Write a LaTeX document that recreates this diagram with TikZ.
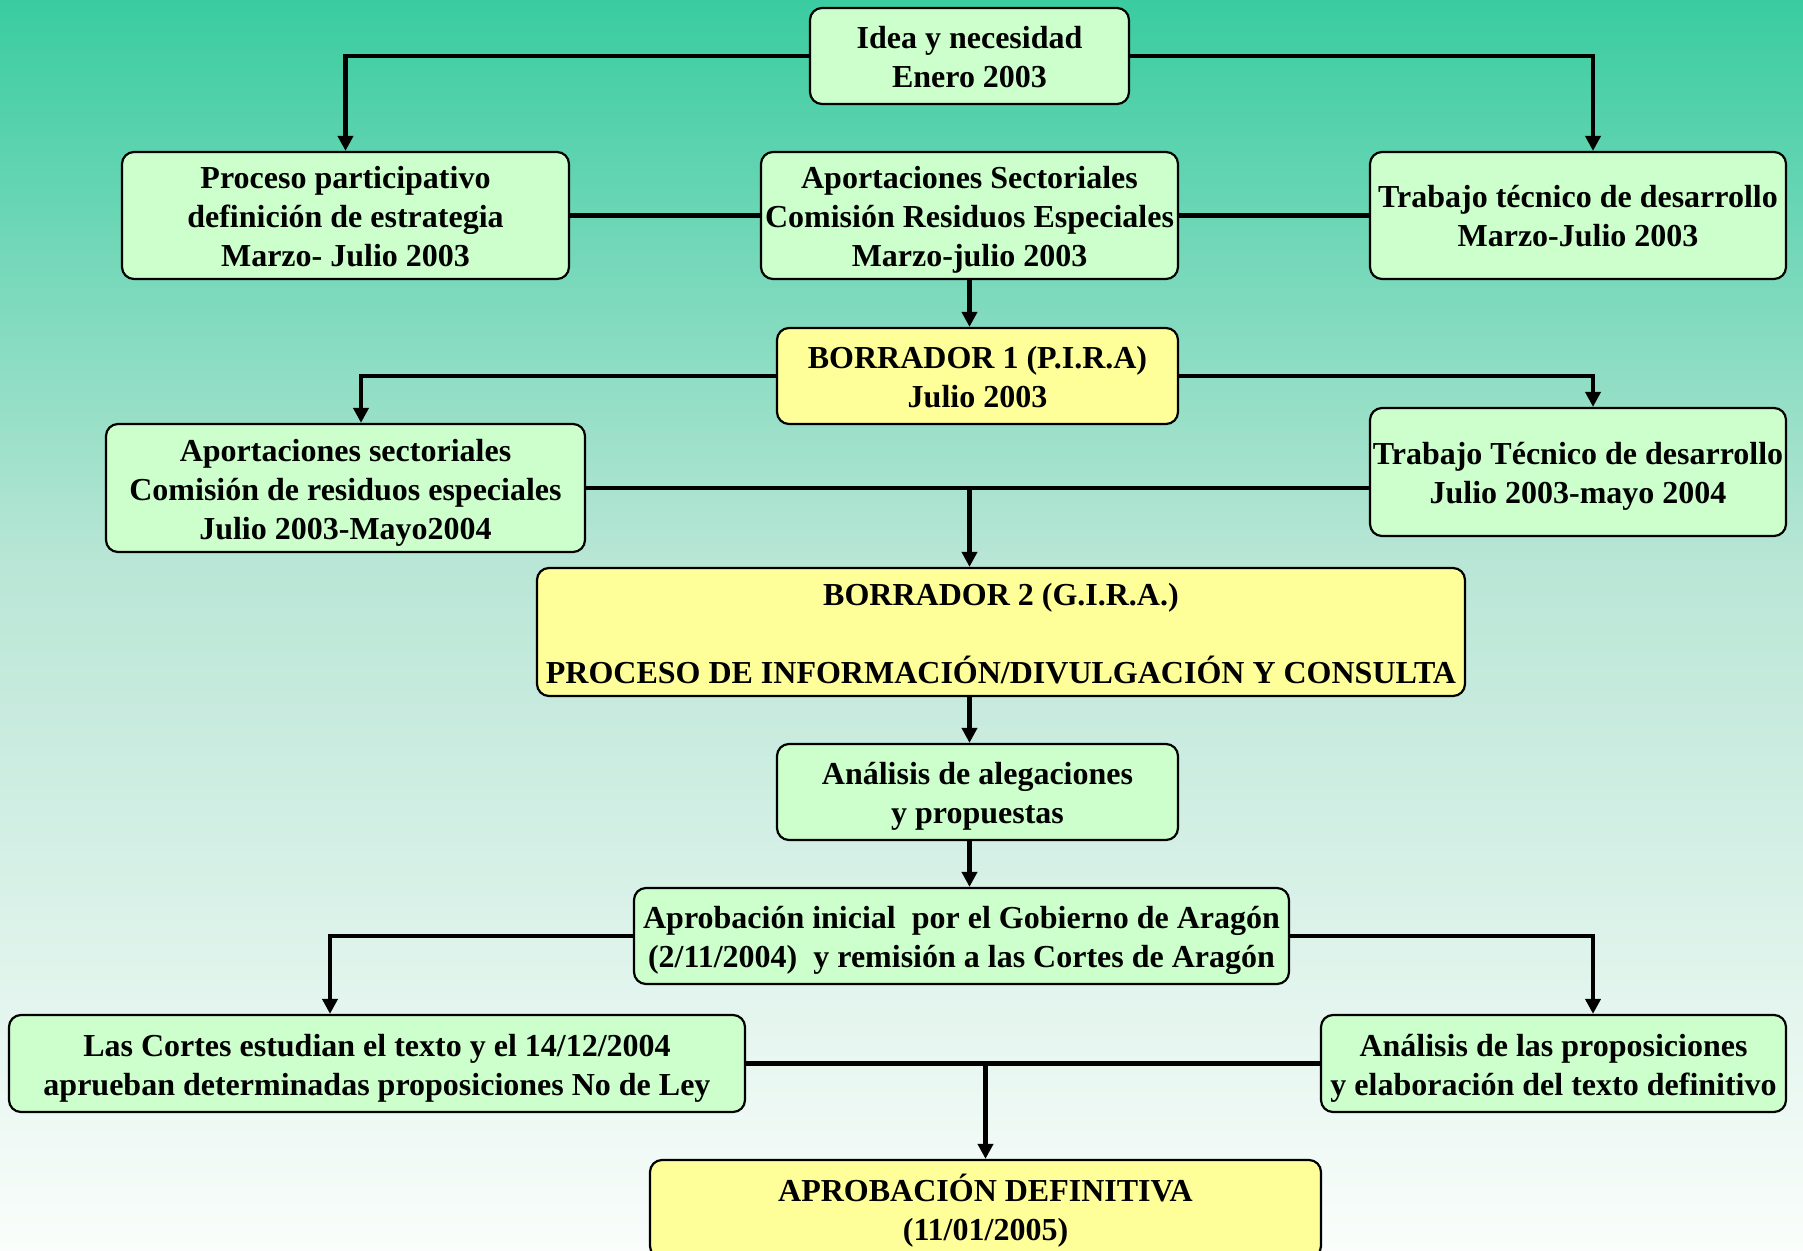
\documentclass[tikz,border=0pt]{standalone}
\usepackage{fontspec}
\setmainfont{Liberation Serif}
\usetikzlibrary{arrows.meta}
\definecolor{bgtop}{RGB}{58,204,160}
\definecolor{bgmid}{RGB}{185,230,214}
\definecolor{bgbot}{RGB}{250,253,251}
\definecolor{gfill}{HTML}{CCFFCC}
\definecolor{yfill}{HTML}{FFFF99}
\newcommand\bxt[1]{\rule{0pt}{16pt}#1\rule[-4pt]{0pt}{4pt}}
\tikzset{
  box/.style={draw=black, line width=1.1pt, rounded corners=6pt, align=center,
    font=\fontsize{16}{19.5}\selectfont\bfseries, inner sep=0pt},
  gbox/.style={box, fill=gfill},
  ybox/.style={box, fill=yfill},
  ln/.style={draw=black, line width=2.3pt},
  arr/.style={ln, -{Triangle[width=7.5pt,length=7.5pt]}},
}
\begin{document}
\begin{tikzpicture}[x=0.5pt,y=-0.5pt]
\useasboundingbox (0,0) rectangle (1803,1251);
\shade[top color=bgtop, bottom color=bgmid] (0,0) rectangle (1803,562);
\shade[top color=bgmid, bottom color=bgbot] (0,560) rectangle (1803,1251);

\node[gbox, minimum width=159.5pt, minimum height=48pt] (idea) at (969.5,56) {\bxt{Idea y necesidad\\Enero 2003}};
\node[gbox, minimum width=223.5pt, minimum height=63.5pt] (proc) at (345.5,215.5) {\bxt{Proceso participativo\\definición de estrategia\\Marzo- Julio 2003}};
\node[gbox, minimum width=208.5pt, minimum height=63.5pt] (aps) at (969.5,215.5) {\bxt{Aportaciones Sectoriales\\Comisión Residuos Especiales\\Marzo-julio 2003}};
\node[gbox, minimum width=208pt, minimum height=63.5pt] (trab1) at (1578,215.5) {\bxt{Trabajo técnico de desarrollo\\Marzo-Julio 2003}};
\node[ybox, minimum width=200.5pt, minimum height=48pt] (b1) at (977.5,376) {\bxt{BORRADOR 1 (P.I.R.A)\\Julio 2003}};
\node[gbox, minimum width=239.5pt, minimum height=64pt] (ap2) at (345.5,488) {\bxt{Aportaciones sectoriales\\Comisión de residuos especiales\\Julio 2003-Mayo2004}};
\node[gbox, minimum width=208pt, minimum height=64pt] (trab2) at (1578,472) {\bxt{Trabajo Técnico de desarrollo\\Julio 2003-mayo 2004}};
\node[ybox, minimum width=464pt, minimum height=64pt] (b2) at (1001,632) {\bxt{BORRADOR 2 (G.I.R.A.)\\[19.5pt]PROCESO DE INFORMACIÓN/DIVULGACIÓN Y CONSULTA}};
\node[gbox, minimum width=200.5pt, minimum height=48pt] (anal) at (977.5,792) {\bxt{Análisis de alegaciones\\y propuestas}};
\node[gbox, minimum width=327.5pt, minimum height=48pt] (apini) at (961.5,936) {\bxt{Aprobación inicial\ \ por el Gobierno de Aragón\\(2/11/2004)\ \ y remisión a las Cortes de Aragón}};
\node[gbox, minimum width=368pt, minimum height=48.5pt] (cortes) at (377,1063.5) {\bxt{Las Cortes estudian el texto y el 14/12/2004\\aprueban determinadas proposiciones No de Ley}};
\node[gbox, minimum width=232.5pt, minimum height=48.5pt] (anprop) at (1553.5,1063.5) {\bxt{Análisis de las proposiciones\\y elaboración del texto definitivo}};
\node[ybox, minimum width=335.5pt, minimum height=49pt] (adef) at (985.5,1209) {\bxt{APROBACIÓN DEFINITIVA\\(11/01/2005)}};

% connectors
\draw[arr] (idea.west) -| (proc.north);
\draw[arr] (idea.east) -| ([xshift=7.5pt]trab1.north);
\draw[ln] (proc.east) -- (aps.west);
\draw[ln] (aps.east) -- (trab1.west);
\draw[arr] (aps.south) -- (aps.south |- b1.north);
\draw[arr] (b1.west) -| ([xshift=7.75pt]ap2.north);
\draw[arr] (b1.east) -| ([xshift=7.5pt]trab2.north);
\coordinate (j1) at (aps.south |- ap2.east);
\draw[ln] (ap2.east) -- (ap2.east -| trab2.west);
\draw[arr] (j1) -- (j1 |- b2.north);
\draw[arr] (j1 |- b2.south) -- (j1 |- anal.north);
\draw[arr] (j1 |- anal.south) -- (j1 |- apini.north);
\draw[arr] (apini.west) -| ([xshift=-23.5pt]cortes.north);
\draw[arr] (apini.east) -| ([xshift=19.75pt]anprop.north);
\draw[ln] (cortes.east) -- (anprop.west);
\coordinate (j2) at (adef.north |- cortes.east);
\draw[arr] (j2) -- (adef.north);
\end{tikzpicture}
\end{document}
